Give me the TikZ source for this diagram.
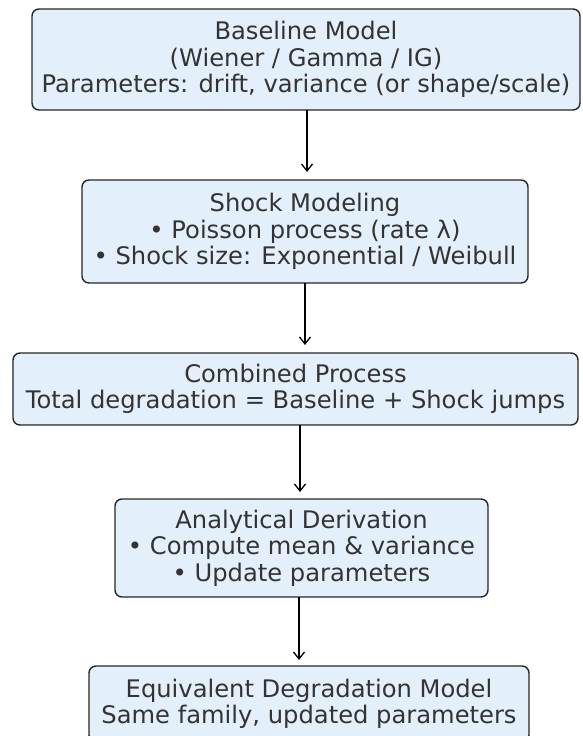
\documentclass[tikz,border=0pt]{standalone}
\usepackage{fontspec}
\setmainfont{DejaVu Sans}
\usetikzlibrary{arrows.meta}
\definecolor{boxfill}{HTML}{E3EFFA}
\definecolor{txt}{HTML}{333333}
\begin{document}
\begin{tikzpicture}[x=1pt,y=-1pt,
  box/.style={draw=black!85, line width=1.4pt, rounded corners=7pt, fill=boxfill,
    text=txt, align=center, inner sep=0pt, font=\fontsize{24.2}{26.5}\selectfont},
  conn/.style={-{Straight Barb[length=7pt,width=11pt,line width=1.3pt]}, line width=1.3pt, black}]
\useasboundingbox (0,0) rectangle (582,736);
\node[box, minimum width=548pt, minimum height=101pt] (b1) at (306,59.5)
  {Baseline Model\\(Wiener / Gamma / IG)\\Parameters: drift, variance (or shape/scale)};
\node[box, minimum width=446pt, minimum height=103pt] (b2) at (305,231.5)
  {Shock Modeling\\• Poisson process (rate λ)\\• Shock size: Exponential / Weibull};
\node[box, minimum width=565pt, minimum height=72pt] (b3) at (295.5,389)
  {Combined Process\\Total degradation = Baseline + Shock jumps};
\node[box, minimum width=373pt, minimum height=98pt] (b4) at (301.5,548)
  {Analytical Derivation\\• Compute mean \& variance\\• Update parameters};
\node[box, minimum width=440pt, minimum height=76pt] (b5) at (309,704)
  {Equivalent Degradation Model\\Same family, updated parameters};
\coordinate (a1s) at (307,110); \coordinate (a1e) at (307,172);
\coordinate (a2s) at (305,283); \coordinate (a2e) at (305,345);
\coordinate (a3s) at (300,425); \coordinate (a3e) at (300,492);
\coordinate (a4s) at (299,597); \coordinate (a4e) at (299,660);
\draw[conn] (a1s) -- (a1e);
\draw[conn] (a2s) -- (a2e);
\draw[conn] (a3s) -- (a3e);
\draw[conn] (a4s) -- (a4e);
\end{tikzpicture}
\end{document}
